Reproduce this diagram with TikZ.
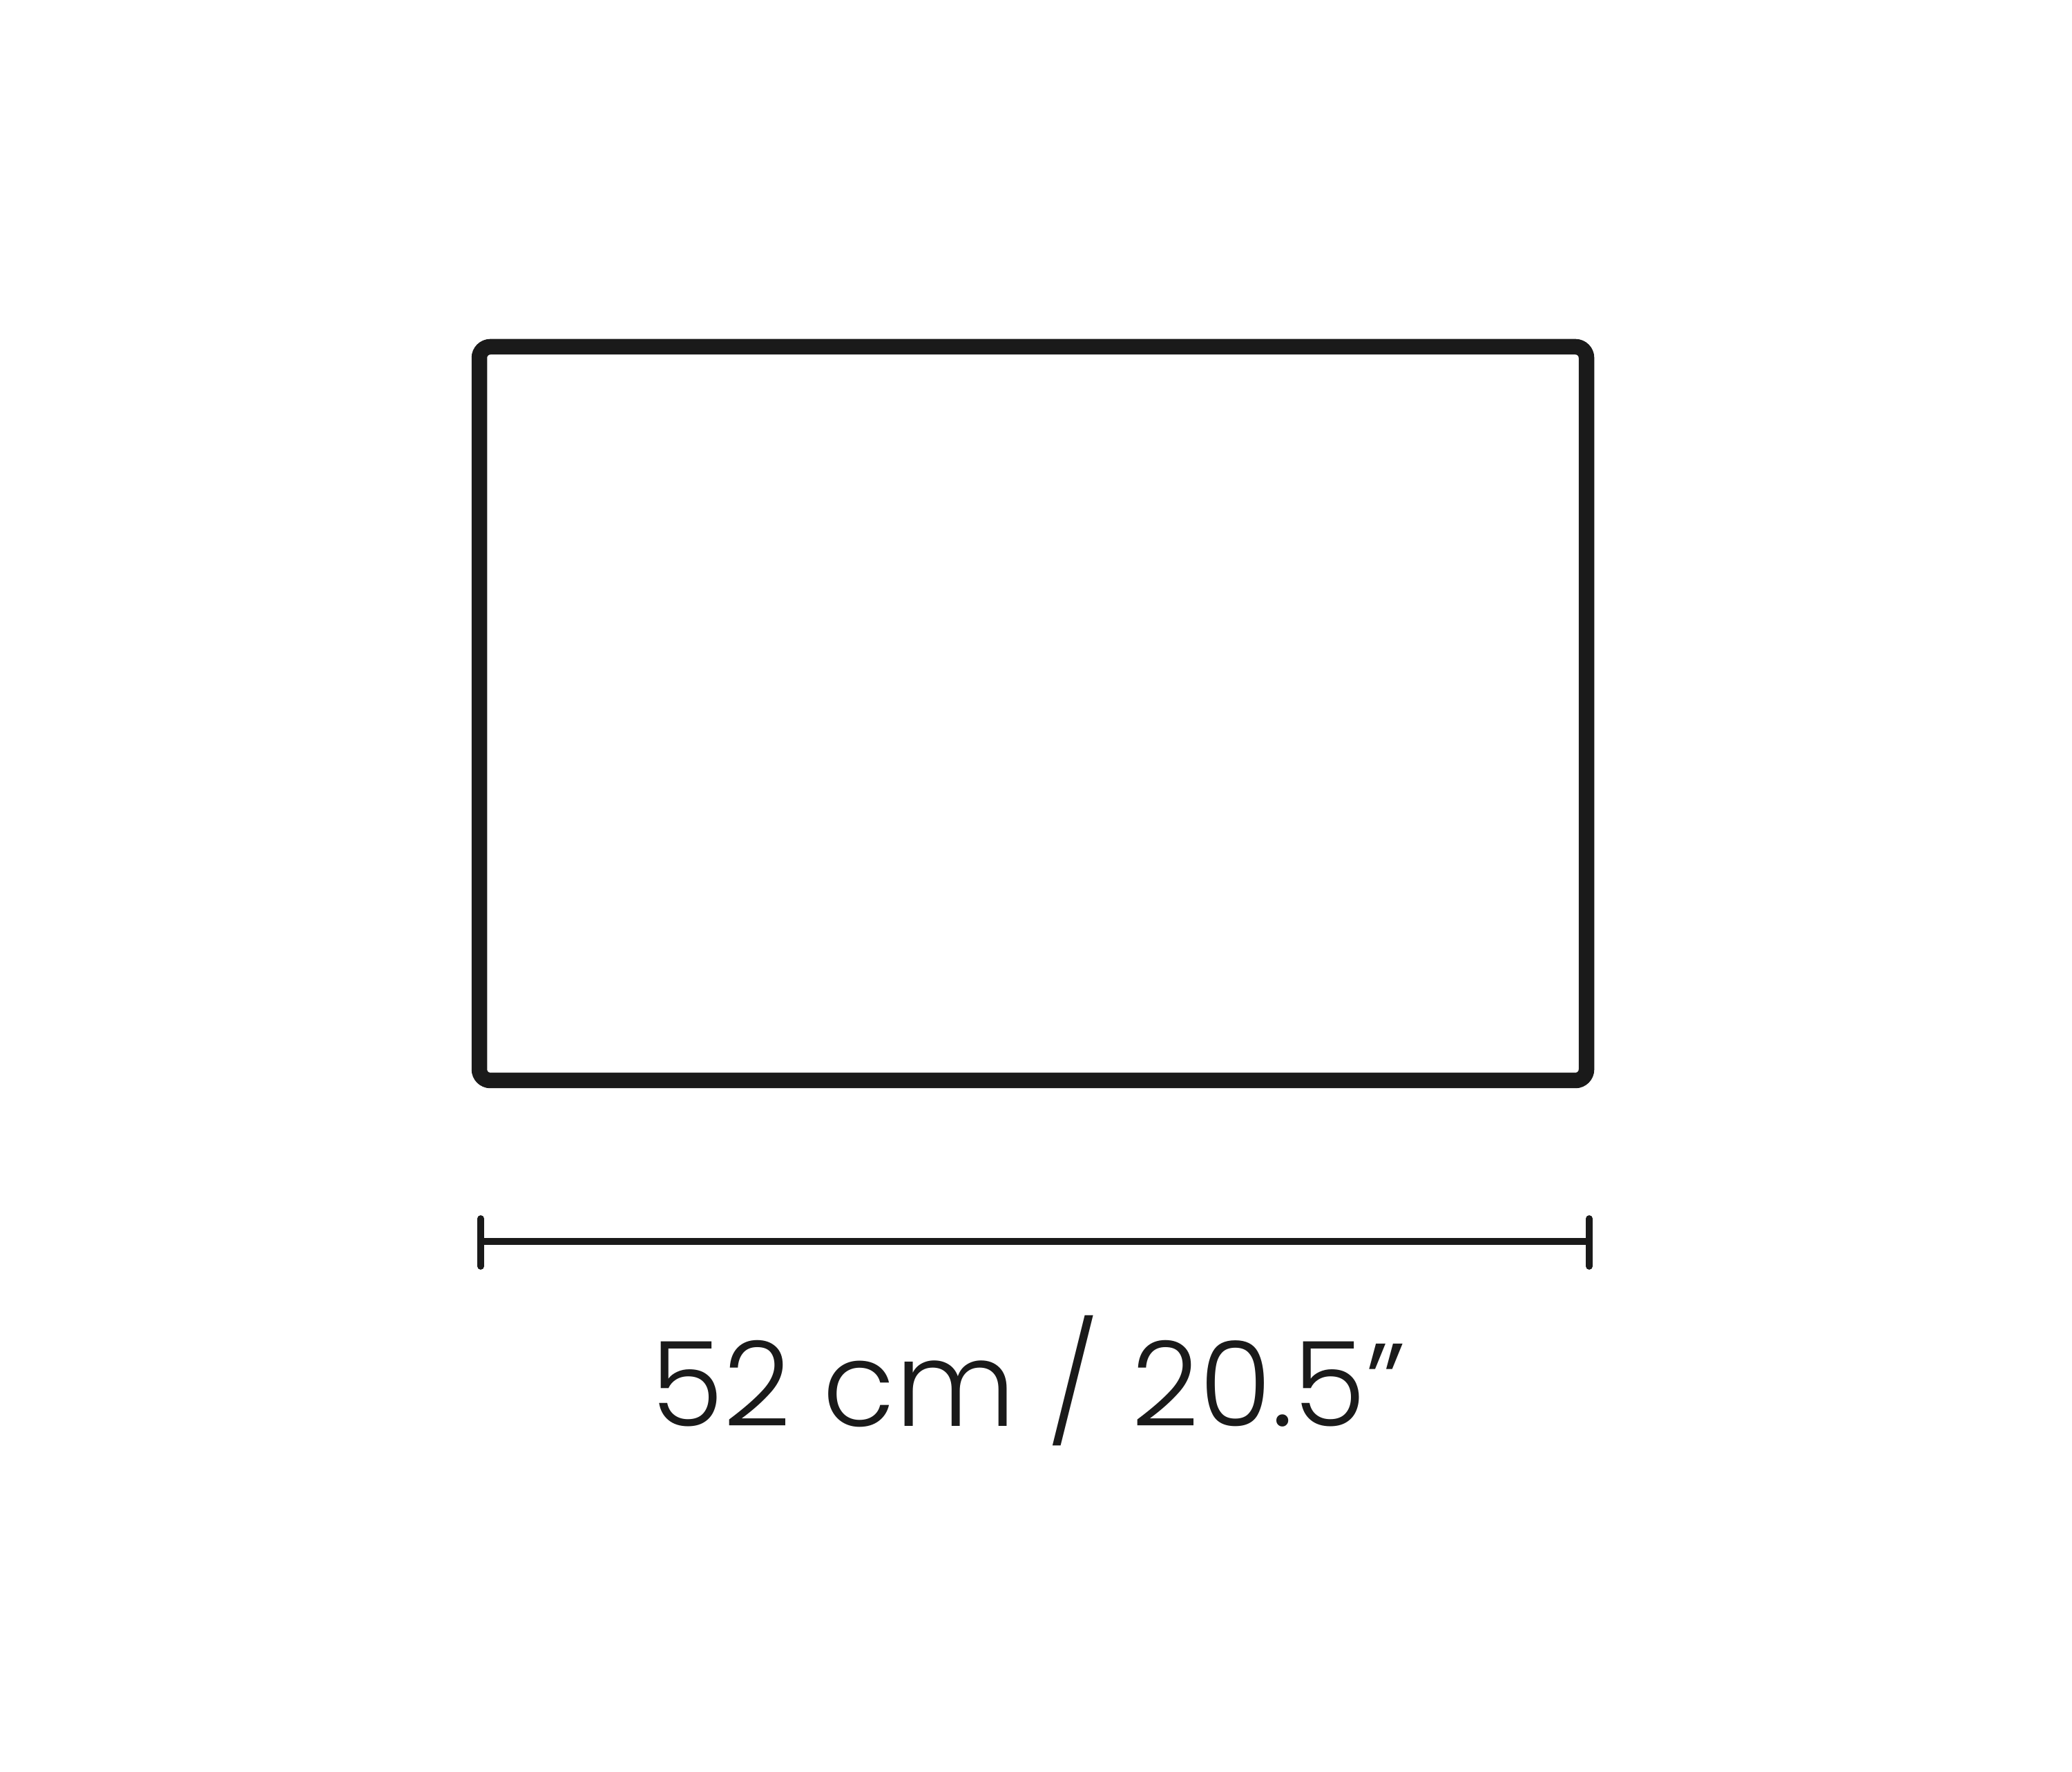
\documentclass[tikz,border=0pt]{standalone}
\usepackage{fontspec}
\setmainfont{Poppins}[UprightFont=* Light]
\usepackage{tikz}
\definecolor{ink}{HTML}{1A1A1A}

\begin{document}
\begin{tikzpicture}
	\useasboundingbox (0,0) rectangle (30,25.64);
	\coordinate (topleft) at (6.94,20.62);
	\coordinate (botright) at (22.97,10.00);
	\coordinate (dimL) at (6.96,7.67);
	\coordinate (dimR) at (23.01,7.67);
	\draw[ink,line width=6.4pt,rounded corners=0.16cm] (topleft) rectangle (botright);
	\draw[ink,line width=2.8pt] (dimL) -- (dimR);
	\draw[ink,line width=2.8pt,line cap=round] ([yshift=0.33cm]dimL) -- ([yshift=-0.36cm]dimL);
	\draw[ink,line width=2.8pt,line cap=round] ([yshift=0.33cm]dimR) -- ([yshift=-0.36cm]dimR);
	\node[ink,anchor=base,inner sep=0pt,font=\fontsize{48.5}{58}\selectfont] (widthlabel) at (14.89,4.99) {52 cm / 20.5”};
\end{tikzpicture}
\end{document}
